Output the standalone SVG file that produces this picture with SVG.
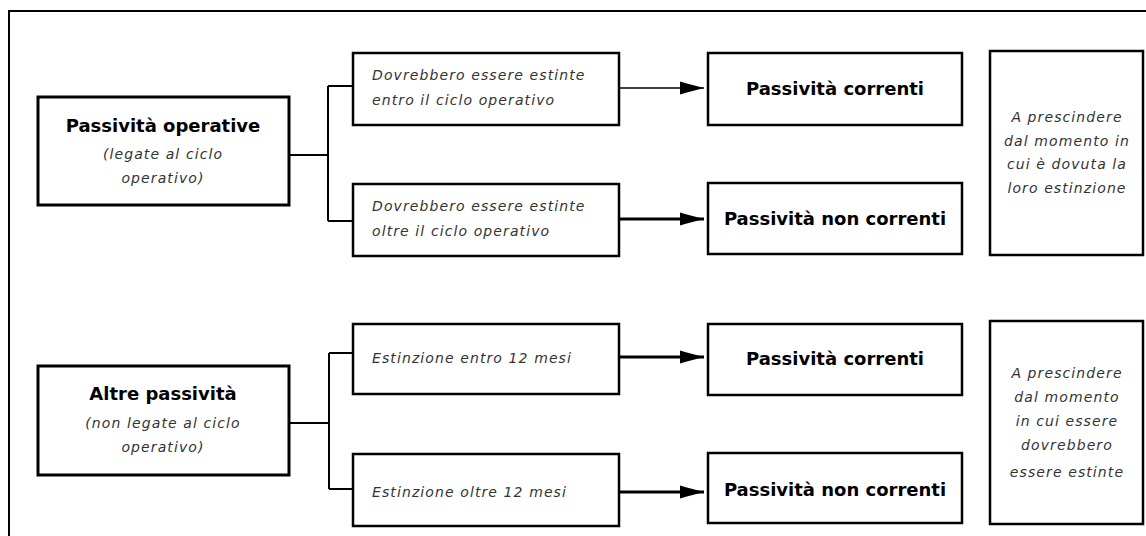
<svg xmlns="http://www.w3.org/2000/svg" width="1146" height="536" viewBox="0 0 1146 536">
<style>
.box{fill:#fff;stroke:#000;stroke-width:2.5}
.boxL{fill:#fff;stroke:#000;stroke-width:3}
.title{font-family:"DejaVu Sans",sans-serif;font-weight:bold;font-size:18px;fill:#000;text-anchor:middle}
.it{font-family:"DejaVu Sans",sans-serif;font-style:italic;font-size:14px;fill:#333;letter-spacing:1.1px}
.itc{font-family:"DejaVu Sans",sans-serif;font-style:italic;font-size:14px;fill:#333;letter-spacing:1.1px;text-anchor:middle}
.ln{fill:none;stroke:#000;stroke-width:2}
.thin{fill:none;stroke:#000;stroke-width:1.5}
.arr{fill:none;stroke:#000}
</style>
<defs>
<marker id="ah" markerUnits="userSpaceOnUse" markerWidth="26" markerHeight="16" viewBox="0 -8 26 16" refX="24" refY="0" orient="auto">
<path d="M0,-6.5 L5,-5 L24,0 L5,5 L0,6.5 Z" fill="#000"/>
</marker>
</defs>
<rect width="1146" height="536" fill="#fff"/>
<path d="M9,536 V11 H1146" fill="none" stroke="#000" stroke-width="2"/>
<g id="connectors">
<path class="ln" d="M289,155 H328 M328,86 V221 M328,86 H353 M328,221 H353"/>
<path class="ln" d="M289,423 H329 M329,353 V489 M329,353 H353 M329,489 H353"/>
<path class="arr" stroke-width="1.5" d="M619,88 H704" marker-end="url(#ah)"/>
<path class="arr" stroke-width="3" d="M619,219 H704" marker-end="url(#ah)"/>
<path class="arr" stroke-width="3" d="M619,357 H704" marker-end="url(#ah)"/>
<path class="arr" stroke-width="3" d="M619,492 H704" marker-end="url(#ah)"/>
</g>
<g id="n_passivita_operative">
<rect class="boxL" x="38" y="97" width="251" height="108"/>
<text class="title" x="163" y="132">Passività operative</text>
<text class="itc" x="163" y="159">(legate al ciclo</text>
<text class="itc" x="163" y="183">operativo)</text>
</g>
<g id="n_entro_ciclo">
<rect class="box" x="353" y="53" width="266" height="72"/>
<text class="it" x="372" y="80">Dovrebbero essere estinte</text>
<text class="it" x="372" y="105">entro il ciclo operativo</text>
</g>
<g id="n_oltre_ciclo">
<rect class="box" x="353" y="184" width="266" height="72"/>
<text class="it" x="372" y="211">Dovrebbero essere estinte</text>
<text class="it" x="372" y="236">oltre il ciclo operativo</text>
</g>
<g id="n_correnti_1">
<rect class="box" x="708" y="53" width="254" height="72"/>
<text class="title" x="835" y="95">Passività correnti</text>
</g>
<g id="n_non_correnti_1">
<rect class="box" x="708" y="183" width="254" height="71"/>
<text class="title" x="835" y="225">Passività non correnti</text>
</g>
<g id="n_nota_1">
<rect class="box" x="990" y="51" width="153" height="204"/>
<text class="itc" x="1067" y="122">A prescindere</text>
<text class="itc" x="1067" y="146">dal momento in</text>
<text class="itc" x="1067" y="169">cui è dovuta la</text>
<text class="itc" x="1067" y="193">loro estinzione</text>
</g>
<g id="n_altre_passivita">
<rect class="boxL" x="38" y="366" width="251" height="109"/>
<text class="title" x="163" y="400">Altre passività</text>
<text class="itc" x="163" y="428">(non legate al ciclo</text>
<text class="itc" x="163" y="452">operativo)</text>
</g>
<g id="n_entro_12">
<rect class="box" x="353" y="324" width="266" height="70"/>
<text class="it" x="372" y="363">Estinzione entro 12 mesi</text>
</g>
<g id="n_oltre_12">
<rect class="box" x="353" y="454" width="266" height="72"/>
<text class="it" x="372" y="497">Estinzione oltre 12 mesi</text>
</g>
<g id="n_correnti_2">
<rect class="box" x="708" y="324" width="254" height="71"/>
<text class="title" x="835" y="365">Passività correnti</text>
</g>
<g id="n_non_correnti_2">
<rect class="box" x="708" y="453" width="254" height="70"/>
<text class="title" x="835" y="496">Passività non correnti</text>
</g>
<g id="n_nota_2">
<rect class="box" x="990" y="321" width="153" height="203"/>
<text class="itc" x="1067" y="378">A prescindere</text>
<text class="itc" x="1067" y="402">dal momento</text>
<text class="itc" x="1067" y="426">in cui essere</text>
<text class="itc" x="1067" y="450">dovrebbero</text>
<text class="itc" x="1067" y="477">essere estinte</text>
</g>
</svg>
